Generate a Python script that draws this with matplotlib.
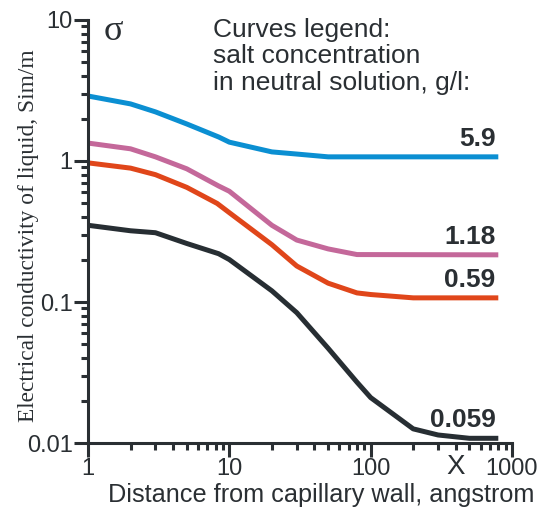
import numpy as np
import matplotlib
matplotlib.use('Agg')
import matplotlib.pyplot as plt

# Conductivity vs distance from the capillary wall, one curve per salt concentration
conc_labels = ['5.9', '1.18', '0.59', '0.059']
colors = ['#0b8fd2', '#c4689a', '#e0461a', '#272e33']

x_blue = [1, 2, 3, 5, 8.4, 10, 20, 30, 50, 800]
y_blue = [2.89, 2.54, 2.23, 1.83, 1.48, 1.36, 1.16, 1.12, 1.07, 1.07]

x_pink = [1, 2, 3, 5, 8.4, 10, 20, 30, 50, 80, 800]
y_pink = [1.34, 1.22, 1.07, 0.88, 0.665, 0.61, 0.35, 0.275, 0.238, 0.217, 0.216]

x_orange = [1, 2, 3, 5, 8.2, 10, 20, 30, 50, 80, 100, 200, 800]
y_orange = [0.97, 0.89, 0.80, 0.65, 0.50, 0.43, 0.255, 0.18, 0.136, 0.116, 0.113, 0.107, 0.107]

x_black = [1, 2, 3, 5, 8.4, 10, 20, 30, 50, 80, 100, 200, 300, 500, 800]
y_black = [0.35, 0.32, 0.31, 0.26, 0.22, 0.20, 0.12, 0.084, 0.047, 0.027, 0.021, 0.0126, 0.0114, 0.0108, 0.0108]

series = [(x_blue, y_blue), (x_pink, y_pink), (x_orange, y_orange), (x_black, y_black)]

ink = '#2a2f33'
sans = 'Liberation Sans'
serif = 'Liberation Serif'

fig = plt.figure(figsize=(5.49, 5.07), dpi=100)
ax = fig.add_axes([0.1603, 0.1262, 0.7723, 0.8344])

for (xs, ys), c, lab in zip(series, colors, conc_labels):
    ax.plot(xs, ys, color=c, lw=3.6, solid_capstyle='butt', solid_joinstyle='round')
    ax.annotate(lab, (xs[-1], ys[-1]), xytext=(-2, 13), textcoords='offset points',
                ha='right', va='center', fontsize=19, fontweight='bold',
                family=sans, color=ink)

ax.set_xscale('log')
ax.set_yscale('log')
ax.set_xlim(1, 1000)
ax.set_ylim(0.01, 10)

for s in ['top', 'right']:
    ax.spines[s].set_visible(False)
for s in ['left', 'bottom']:
    ax.spines[s].set_linewidth(2.2)
    ax.spines[s].set_color(ink)

ax.tick_params(which='major', length=10, width=2.2, color=ink, labelcolor=ink,
               labelsize=17, pad=1)
ax.tick_params(which='minor', length=5, width=2.2, color=ink)
ax.set_xticks([1, 10, 100, 1000])
ax.set_xticklabels(['1', '10', '100', '1000'], family=sans)
ax.set_yticks([0.01, 0.1, 1, 10])
ax.set_yticklabels(['0.01', '0.1', '1', '10'], family=sans)

ax.set_xlabel('Distance from capillary wall, angstrom', family=sans, fontsize=18.2,
              color=ink, va='center')
ax.xaxis.set_label_coords(0.55, -0.123)
ax.set_ylabel('Electrical conductivity of liquid, Sim/m', family=serif, fontsize=16.8,
              color=ink, va='center')
ax.yaxis.set_label_coords(-0.14, 0.49)

fig.text(113 / 549, 1 - 31 / 507, 'σ', family=serif, fontsize=26, color=ink,
         ha='center', va='center')
fig.text(456 / 549, 1 - 467 / 507, 'X', family=sans, fontsize=20, color=ink,
         ha='center', va='center')
fig.text(213 / 549, 1 - 18 / 507, 'Curves legend:\nsalt concentration\nin neutral solution, g/l:',
         family=sans, fontsize=19, color=ink, ha='left', va='top', linespacing=1.13)

fig.savefig('out.png', dpi=100)
